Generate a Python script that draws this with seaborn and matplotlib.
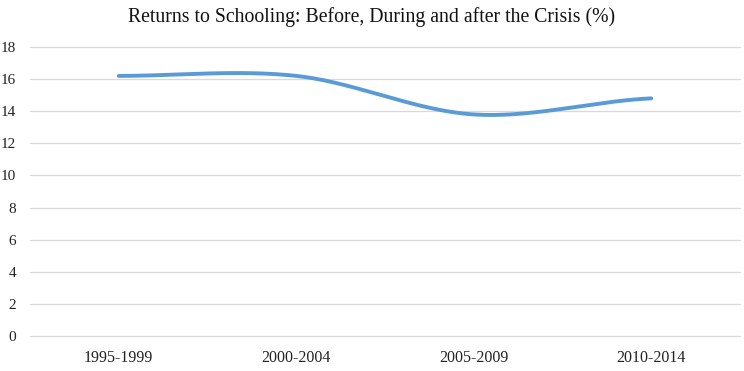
import numpy as np
import pandas as pd
import matplotlib
matplotlib.use("Agg")
import matplotlib.pyplot as plt
import seaborn as sns

# Data
periods = ["1995-1999", "2000-2004", "2005-2009", "2010-2014"]
returns = [16.2, 16.2, 13.8, 14.8]
y_ticks = [0, 2, 4, 6, 8, 10, 12, 14, 16, 18]
title = "Returns to Schooling: Before, During and after the Crisis (%)"


def smooth_curve(vals, n=60):
    """Catmull-Rom style smoothing (like Excel's smoothed line)."""
    v = np.asarray(vals, dtype=float)
    pts = np.concatenate([[v[0]], v, [v[-1]]])
    xs, ys = [], []
    for i in range(len(v) - 1):
        p0, p1, p2, p3 = pts[i], pts[i + 1], pts[i + 2], pts[i + 3]
        m1 = (p2 - p0) / 2.0
        m2 = (p3 - p1) / 2.0
        t = np.linspace(0, 1, n, endpoint=(i == len(v) - 2))
        h00 = 2 * t**3 - 3 * t**2 + 1
        h10 = t**3 - 2 * t**2 + t
        h01 = -2 * t**3 + 3 * t**2
        h11 = t**3 - t**2
        ys.append(h00 * p1 + h10 * m1 + h01 * p2 + h11 * m2)
        xs.append(i + t)
    return np.concatenate(xs), np.concatenate(ys)


sns.set_theme(style="white")
plt.rcParams["font.family"] = ["Liberation Serif", "DejaVu Serif"]

fig = plt.figure(figsize=(7.44, 3.71), dpi=100)
ax = fig.add_axes([30 / 744, 1 - 336 / 371, 710 / 744, 289 / 371])

sx, sy = smooth_curve(returns)
df = pd.DataFrame({"x": sx, "y": sy})
sns.lineplot(data=df, x="x", y="y", ax=ax, color="#5B9BD5", linewidth=2.8,
             solid_capstyle="round", sort=False)

ax.set_xlim(-0.5, len(periods) - 0.5)
ax.set_ylim(0, 18)
ax.set_xticks(range(len(periods)))
ax.set_xticklabels(periods, fontsize=11.5, color="#222222")
ax.set_yticks(y_ticks)
ax.set_yticklabels([str(t) for t in y_ticks], fontsize=11, color="#222222")
ax.tick_params(axis="x", length=0, pad=10)
ax.tick_params(axis="y", length=0, pad=10)
ax.set_xlabel("")
ax.set_ylabel("")
ax.yaxis.grid(True, color="#d9d9d9", linewidth=0.9)
ax.xaxis.grid(False)
for gl in ax.get_ygridlines():
    gl.set_clip_on(False)
ax.set_axisbelow(True)
for s in ax.spines.values():
    s.set_visible(False)

fig.text(0.5, 1 - 17 / 371, title, ha="center", va="center", fontsize=14.2,
         color="#111111")

fig.savefig("out.png", dpi=100, facecolor="white")
